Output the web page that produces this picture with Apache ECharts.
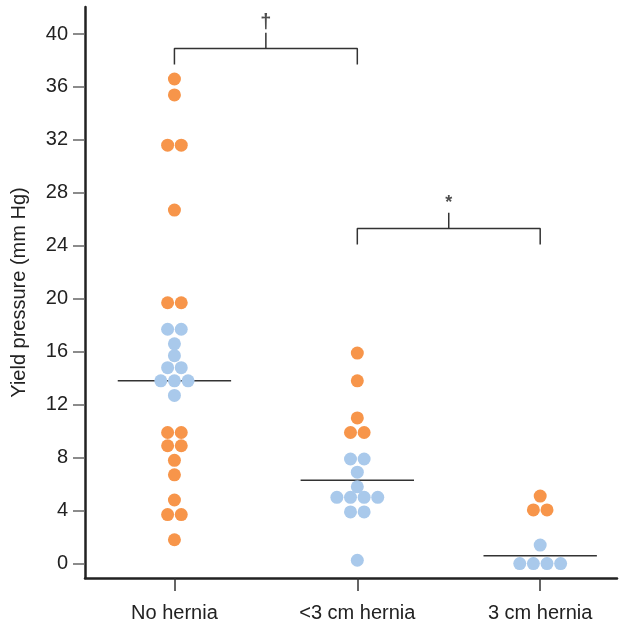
<!DOCTYPE html>
<html>
<head>
<meta charset="utf-8">
<script src="https://cdn.jsdelivr.net/npm/echarts@6/dist/echarts.min.js"></script>
<style>html,body{margin:0;padding:0;background:#fff}#c{width:620px;height:628px}</style>
</head>
<body>
<div id="c"></div>
<script>
var categories = ['No hernia', '<3 cm hernia', '3 cm hernia'];
var yTicks = [0, 4, 8, 12, 16, 20, 24, 28, 32, 36, 40];
// orange dots per group
var orangeNoHernia = [36.6, 35.4, 31.6, 31.6, 26.7, 19.7, 19.7, 9.9, 9.9, 8.9, 8.9, 7.8, 6.7, 4.8, 3.7, 3.7, 1.8];
var orangeSmall = [15.9, 13.8, 11.0, 9.9, 9.9];
var orangeLarge = [5.1, 4.05, 4.05];
// blue dots per group
var blueNoHernia = [17.7, 17.7, 16.6, 15.7, 14.8, 14.8, 13.8, 13.8, 13.8, 12.7];
var blueSmall = [7.9, 7.9, 6.9, 5.8, 5.0, 5.0, 5.0, 5.0, 3.9, 3.9, 0.25];
var blueLarge = [1.4, 0, 0, 0, 0];
// medians
var medians = [13.8, 6.3, 0.6];
// significance brackets: [from group, to group, y level, symbol, font size]
var brackets = [[1, 2, 38.9, '\u2020', 20], [2, 3, 25.3, '*', 18]];

var DOT_STEP = 0.0745;   // horizontal spacing of dots (axis units)
var MED_HALF = 0.31;     // half-width of median line
var LEG = 1.2;           // bracket leg length
var STEM = 1.2;          // bracket stem height

function swarm(vals, cx) {
  var counts = {}, seen = {}, out = [];
  vals.forEach(function (v) { counts[v] = (counts[v] || 0) + 1; });
  vals.forEach(function (v) {
    var n = counts[v], i = seen[v] || 0; seen[v] = i + 1;
    out.push([cx + (i - (n - 1) / 2) * DOT_STEP, v]);
  });
  return out;
}
var orangeData = [].concat(swarm(orangeNoHernia, 1), swarm(orangeSmall, 2), swarm(orangeLarge, 3));
var blueData = [].concat(swarm(blueNoHernia, 1), swarm(blueSmall, 2), swarm(blueLarge, 3));

var series = [];
medians.forEach(function (m, i) {
  series.push({
    type: 'line', data: [[i + 1 - MED_HALF, m], [i + 1 + MED_HALF, m]],
    symbol: 'none', lineStyle: { color: '#333', width: 1.5 }, silent: true, z: 1
  });
});
var annot = [];
brackets.forEach(function (b) {
  var a = b[0], c = b[1], y = b[2], mid = (a + c) / 2;
  series.push({
    type: 'line', data: [[a, y - LEG], [a, y], [c, y], [c, y - LEG]],
    symbol: 'none', lineStyle: { color: '#333', width: 1.5 }, silent: true
  });
  series.push({
    type: 'line', data: [[mid, y], [mid, y + STEM]],
    symbol: 'none', lineStyle: { color: '#333', width: 1.5 }, silent: true
  });
  annot.push({ value: [mid, y + STEM + 0.75, b[3]], label: { fontSize: b[4] } });
});
series.push({
  type: 'scatter', data: orangeData, symbolSize: 13,
  itemStyle: { color: '#F7954A', opacity: 1 }, z: 3
});
series.push({
  type: 'scatter', data: blueData, symbolSize: 13,
  itemStyle: { color: '#A9C9EB', opacity: 1 }, z: 3
});
series.push({
  type: 'scatter', data: annot, symbolSize: 0,
  label: {
    show: true, position: 'inside', color: '#222', fontWeight: 'bold',
    fontFamily: 'Liberation Sans',
    formatter: function (p) { return p.value[2]; }
  }
});

var chart = echarts.init(document.getElementById('c'), null, { renderer: 'canvas' });
chart.setOption({
  animation: false,
  textStyle: { fontFamily: 'Liberation Sans' },
  grid: { left: 85, right: 3, top: 7, bottom: 50, containLabel: false },
  xAxis: {
    type: 'value', min: 0.511, max: 3.42,
    axisLine: { show: true, onZero: false, lineStyle: { color: '#222', width: 2.5 } },
    axisTick: { show: true, customValues: [1, 2, 3], length: 13, lineStyle: { color: '#333', width: 1.5 } },
    axisLabel: {
      customValues: [1, 2, 3], margin: 25, color: '#222', fontSize: 20, fontFamily: 'Liberation Sans',
      formatter: function (v) { return categories[Math.round(v) - 1]; }
    },
    splitLine: { show: false }
  },
  yAxis: {
    type: 'value', min: -1.09, max: 42.04,
    name: 'Yield pressure (mm Hg)', nameLocation: 'middle', nameGap: 56,
    nameTextStyle: { color: '#222', fontSize: 20, fontFamily: 'Liberation Sans' },
    axisLine: { show: true, onZero: false, lineStyle: { color: '#222', width: 2.5 } },
    axisTick: { show: true, customValues: yTicks, length: 12, lineStyle: { color: '#666', width: 1.5 } },
    axisLabel: { customValues: yTicks, margin: 17, color: '#222', fontSize: 20, fontFamily: 'Liberation Sans' },
    splitLine: { show: false }
  },
  series: series
});
</script>
</body>
</html>
